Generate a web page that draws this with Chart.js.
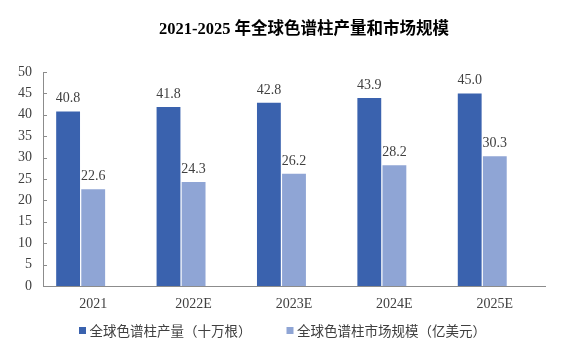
<!DOCTYPE html>
<html><head><meta charset="utf-8">
<script src="https://cdn.jsdelivr.net/npm/chart.js@4.4.0/dist/chart.umd.min.js"></script>
<style>html,body{margin:0;padding:0;background:#fff}#w{width:563px;height:348px}</style>
</head><body><div id="w"><canvas id="c" width="563" height="348"></canvas></div>
<script>
const categories = ['2021','2022E','2023E','2024E','2025E'];
const production = [40.8, 41.8, 42.8, 43.9, 45.0];
const marketSize = [22.6, 24.3, 26.2, 28.2, 30.3];
const emptySlot = [null, null, null, null, null];
const seriesNames = ['全球色谱柱产量（十万根）','全球色谱柱市场规模（亿美元）'];
const yTicks = [0,5,10,15,20,25,30,35,40,45,50];
const titleText = '2021-2025 年全球色谱柱产量和市场规模';

const serif = '"Liberation Serif","Times New Roman",serif';
const cjk = '"Noto Sans CJK SC",sans-serif';

const decor = {
  id:'decor',
  afterDraw(chart){
    const ctx = chart.ctx;
    const ca = chart.chartArea;
    ctx.save();
    // title
    ctx.font = 'bold 16.5px "Liberation Serif","Noto Sans CJK SC",serif';
    ctx.fillStyle = '#000';
    ctx.textAlign = 'center';
    ctx.textBaseline = 'middle';
    ctx.fillText(titleText, 304, 30);
    // y inner tick marks
    const ys = chart.scales.y;
    ctx.strokeStyle = '#8c8c8c';
    ctx.lineWidth = 1;
    yTicks.forEach(v=>{
      const py = Math.round(ys.getPixelForValue(v)) + 0.5;
      ctx.beginPath(); ctx.moveTo(ca.left, py); ctx.lineTo(ca.left + 4, py); ctx.stroke();
    });
    // data labels
    ctx.font = '14px ' + serif;
    ctx.fillStyle = '#404040';
    ctx.textBaseline = 'alphabetic';
    chart.data.datasets.forEach((ds,i)=>{
      if(!ds.label) return;
      chart.getDatasetMeta(i).data.forEach((bar,j)=>{
        if(ds.data[j]==null) return;
        ctx.fillText(ds.data[j].toFixed(1), bar.x, bar.y - 9);
      });
    });
    // legend
    ctx.font = '13.5px ' + cjk;
    ctx.textAlign = 'left';
    ctx.textBaseline = 'middle';
    const items = chart.data.datasets.filter(d=>d.label);
    const box = 7, gap = 3.5, spacing = 35;
    const widths = items.map(d=>ctx.measureText(d.label).width);
    const total = widths.reduce((a,w)=>a+box+gap+w,0) + spacing*(items.length-1);
    let x = chart.width/2 - total/2 + 1;
    const ly = 330.5;
    items.forEach((d,i)=>{
      ctx.fillStyle = d.backgroundColor;
      ctx.fillRect(x, ly - 3.5, box, box);
      ctx.fillStyle = '#404040';
      ctx.fillText(d.label, x + box + gap, ly);
      x += box + gap + widths[i] + spacing;
    });
    ctx.restore();
  }
};

new Chart(document.getElementById('c'), {
  type:'bar',
  data:{
    labels:categories,
    datasets:[
      {label:seriesNames[0], data:production, backgroundColor:'#3A62AE', borderWidth:0, categoryPercentage:0.75, barPercentage:0.95},
      {label:seriesNames[1], data:marketSize, backgroundColor:'#8FA5D5', borderWidth:0, categoryPercentage:0.75, barPercentage:0.95},
      {label:'', data:emptySlot, backgroundColor:'rgba(0,0,0,0)', borderWidth:0, categoryPercentage:0.75, barPercentage:0.95}
    ]
  },
  options:{
    responsive:false,
    animation:false,
    layout:{padding:{left:0,right:18,top:72,bottom:32}},
    plugins:{
      title:{display:false},
      legend:{display:false},
      tooltip:{enabled:false}
    },
    scales:{
      x:{
        afterFit(a){a.height = 30;},
        grid:{display:false,drawTicks:false},
        border:{color:'#8c8c8c'},
        ticks:{color:'#404040',padding:10,font:{family:serif,size:14}}
      },
      y:{
        min:0,max:50,
        afterFit(a){a.width = 43;},
        afterBuildTicks(axis){axis.ticks = yTicks.map(v=>({value:v}));},
        grid:{display:false,drawTicks:false},
        border:{color:'#8c8c8c'},
        ticks:{color:'#404040',padding:11,font:{family:serif,size:14}}
      }
    }
  },
  plugins:[decor]
});
</script></body></html>
